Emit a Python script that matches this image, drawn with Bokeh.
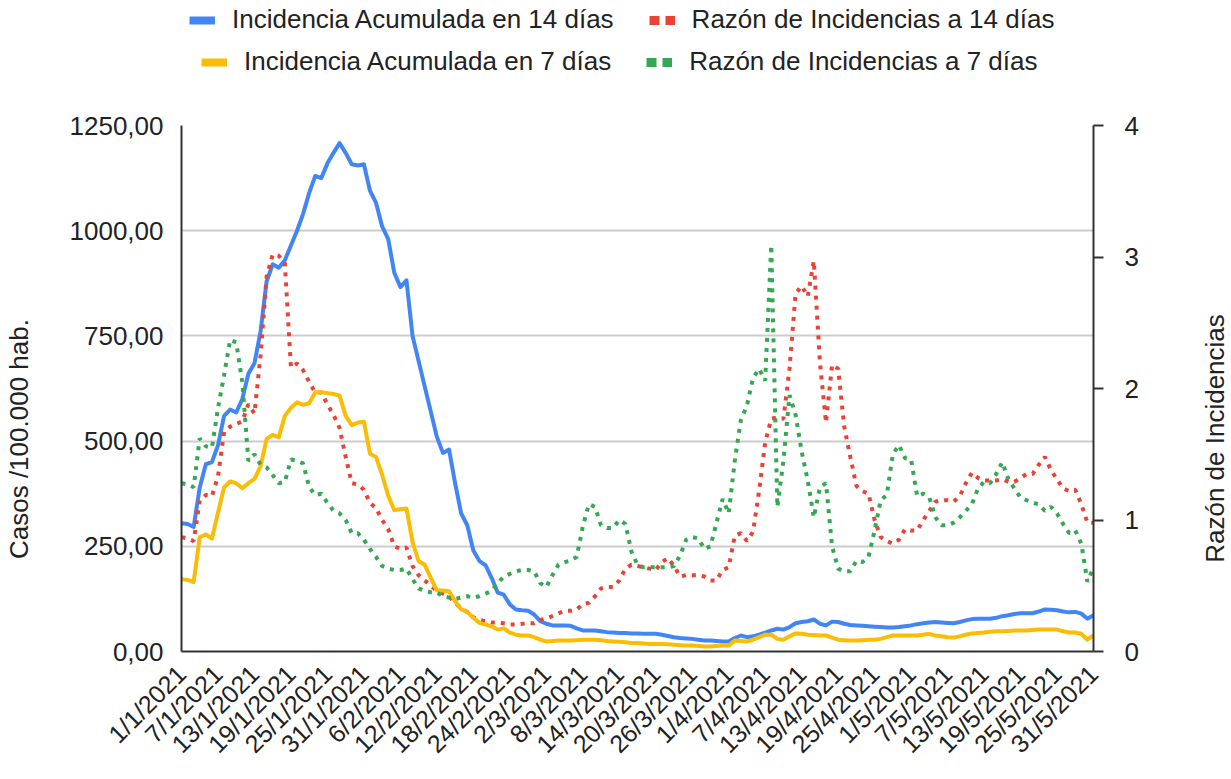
import math
from bokeh.plotting import figure
from bokeh.layouts import column, row
from bokeh.models import Range1d, LinearAxis, FixedTicker, Legend, LegendItem, Label
from bokeh.embed import file_html
from bokeh.resources import INLINE

# ---------------- data ----------------
tick_labels = ["1/1/2021", "7/1/2021", "13/1/2021", "19/1/2021", "25/1/2021", "31/1/2021",
               "6/2/2021", "12/2/2021", "18/2/2021", "24/2/2021", "2/3/2021", "8/3/2021",
               "14/3/2021", "20/3/2021", "26/3/2021", "1/4/2021", "7/4/2021", "13/4/2021",
               "19/4/2021", "25/4/2021", "1/5/2021", "7/5/2021", "13/5/2021", "19/5/2021",
               "25/5/2021", "31/5/2021"]

left_ticks = [0, 250, 500, 750, 1000, 1250]
left_labels = ["0,00", "250,00", "500,00", "750,00", "1000,00", "1250,00"]
right_ticks = [0, 1, 2, 3, 4]

# Incidencia Acumulada en 14 dias (daily, 1/1/2021 - 31/5/2021)
ia14 = [305, 303, 296, 390, 445, 450, 490, 560, 575, 568,
        600, 660, 685, 760, 880, 920, 912, 930, 965, 1000,
        1040, 1090, 1130, 1125, 1160, 1185, 1208, 1185, 1158, 1155,
        1158, 1095, 1066, 1010, 980, 900, 866, 882, 750, 690,
        630, 570, 510, 472, 480, 400, 328, 300, 240, 215,
        205, 175, 140, 135, 112, 100, 98, 97, 88, 72,
        66, 62, 62, 62, 61, 55, 50, 50, 50, 48,
        46, 45, 44, 44, 43, 43, 42, 42, 42, 40,
        37, 34, 32, 31, 30, 28, 26, 26, 25, 24,
        24, 32, 38, 34, 36, 40, 45, 50, 54, 52,
        58, 67, 70, 72, 76, 66, 62, 71, 70, 66,
        63, 62, 61, 60, 59, 58, 57, 57, 58, 60,
        62, 65, 67, 69, 70, 69, 68, 67, 70, 74,
        77, 78, 78, 78, 80, 84, 86, 89, 91, 91,
        91, 95, 100, 99, 98, 95, 93, 94, 90, 78,
        86]

# Incidencia Acumulada en 7 dias
ia7 = [172, 170, 165, 272, 278, 268, 330, 390, 404, 400,
       388, 400, 410, 440, 505, 515, 509, 560, 579, 592,
       586, 590, 616, 616, 614, 612, 608, 560, 538, 544,
       546, 470, 462, 420, 370, 336, 338, 340, 260, 215,
       206, 175, 145, 145, 143, 120, 100, 94, 80, 68,
       64, 60, 52, 55, 45, 40, 38, 38, 34, 28,
       24, 25, 26, 26, 26, 27, 28, 28, 28, 27,
       25, 24, 23, 22, 20, 20, 19, 18, 18, 18,
       17, 16, 15, 14, 14, 13, 12, 12, 13, 14,
       14, 26, 25, 24, 28, 34, 40, 40, 30, 28,
       36, 43, 42, 40, 39, 38, 38, 33, 28, 27,
       26, 26, 27, 28, 28, 30, 34, 38, 38, 38,
       38, 38, 40, 42, 38, 36, 34, 33, 36, 40,
       43, 44, 45, 47, 48, 48, 49, 50, 50, 50,
       51, 52, 52, 52, 52, 48, 45, 45, 42, 28,
       38]

# Razon de Incidencias a 14 dias
ri14 = [0.87, 0.86, 0.84, 1.15, 1.19, 1.18, 1.33, 1.67, 1.71, 1.73,
        1.75, 1.88, 1.81, 2.25, 2.85, 3.02, 3.01, 2.95, 2.16, 2.19,
        2.14, 2.05, 1.97, 1.97, 1.88, 1.80, 1.70, 1.48, 1.28, 1.27,
        1.23, 1.13, 1.09, 1.00, 0.93, 0.80, 0.78, 0.79, 0.65, 0.58,
        0.54, 0.50, 0.46, 0.44, 0.42, 0.37, 0.33, 0.30, 0.26, 0.24,
        0.23, 0.22, 0.22, 0.215, 0.205, 0.205, 0.21, 0.215, 0.215, 0.24,
        0.25, 0.27, 0.29, 0.31, 0.31, 0.32, 0.36, 0.37, 0.42, 0.48,
        0.49, 0.49, 0.54, 0.63, 0.66, 0.65, 0.64, 0.63, 0.62, 0.68,
        0.71, 0.65, 0.57, 0.58, 0.58, 0.58, 0.57, 0.54, 0.54, 0.62,
        0.64, 0.88, 0.90, 0.84, 0.91, 1.22, 1.59, 1.77, 1.78, 1.77,
        2.15, 2.72, 2.78, 2.70, 2.97, 2.20, 1.74, 2.18, 2.15, 1.71,
        1.48, 1.26, 1.22, 1.20, 1.00, 0.87, 0.84, 0.82, 0.85, 0.93,
        0.92, 0.92, 1.00, 1.07, 1.14, 1.15, 1.15, 1.14, 1.18, 1.28,
        1.36, 1.32, 1.30, 1.30, 1.30, 1.31, 1.29, 1.29, 1.32, 1.35,
        1.35, 1.42, 1.48, 1.38, 1.31, 1.24, 1.22, 1.23, 1.12, 0.98,
        0.98]

# Razon de Incidencias a 7 dias
ri7 = [1.28, 1.27, 1.25, 1.62, 1.56, 1.55, 1.85, 2.10, 2.37, 2.35,
       2.05, 1.45, 1.50, 1.42, 1.40, 1.34, 1.28, 1.29, 1.46, 1.45,
       1.43, 1.25, 1.19, 1.20, 1.13, 1.07, 1.05, 1.00, 0.90, 0.90,
       0.85, 0.78, 0.72, 0.65, 0.63, 0.62, 0.62, 0.63, 0.55, 0.48,
       0.46, 0.45, 0.45, 0.42, 0.41, 0.40, 0.41, 0.42, 0.41, 0.42,
       0.44, 0.46, 0.52, 0.57, 0.59, 0.61, 0.62, 0.62, 0.61, 0.52,
       0.49, 0.58, 0.66, 0.68, 0.69, 0.72, 0.95, 1.12, 1.10, 0.96,
       0.94, 0.94, 1.00, 0.97, 0.76, 0.66, 0.64, 0.64, 0.64, 0.64,
       0.64, 0.65, 0.73, 0.85, 0.87, 0.86, 0.78, 0.80, 0.98, 1.16,
       1.05, 1.45, 1.76, 1.87, 2.08, 2.15, 2.06, 3.09, 1.10, 1.45,
       1.95, 1.80, 1.52, 1.30, 1.02, 1.25, 1.28, 0.80, 0.63, 0.61,
       0.61, 0.69, 0.68, 0.72, 0.92, 1.15, 1.19, 1.50, 1.57, 1.47,
       1.46, 1.18, 1.20, 1.17, 1.02, 0.96, 0.96, 0.98, 1.02, 1.07,
       1.12, 1.24, 1.29, 1.28, 1.35, 1.44, 1.31, 1.24, 1.17, 1.15,
       1.13, 1.12, 1.07, 1.10, 1.05, 0.97, 0.90, 0.92, 0.82, 0.53,
       0.64]

days = list(range(len(ia14)))
tick_pos = list(range(0, len(ia14), 6))

# ---------------- styles / geometry ----------------
FONT = "Liberation Sans"
TXT = "#222222"
AX = "#333333"
C_IA14, C_RI14, C_IA7, C_RI7 = "#4285F4", "#EA4335", "#FBBC04", "#34A853"
DOT = "4 6"
PAD = "\u00a0" * 14   # shifts the centred left axis title downward, as in the original

TOTAL_W, TOTAL_H = 1231, 779
RL_W = 38                      # strip on the right holding the right-hand axis title
W = TOTAL_W - RL_W
LEG_H = 90
MAIN_H = TOTAL_H - LEG_H
FRAME_L, FRAME_R, FRAME_T, FRAME_B = 181, 1093, 125, 651

# ---------------- main chart ----------------
p = figure(width=W, height=MAIN_H, output_backend="svg", toolbar_location=None,
           x_range=Range1d(0, len(ia14) - 1), y_range=Range1d(0, 1250),
           min_border_left=FRAME_L, min_border_right=W - FRAME_R,
           min_border_top=FRAME_T - LEG_H, min_border_bottom=MAIN_H - (FRAME_B - LEG_H))
p.outline_line_color = None
p.background_fill_color = "white"
p.border_fill_color = "white"
p.extra_y_ranges = {"ratio": Range1d(0, 4)}

r_ia14 = p.line(days, ia14, line_color=C_IA14, line_width=4, line_join="round")
r_ri14 = p.line(days, ri14, line_color=C_RI14, line_width=4, line_dash=DOT,
                y_range_name="ratio")
r_ia7 = p.line(days, ia7, line_color=C_IA7, line_width=4, line_join="round")
r_ri7 = p.line(days, ri7, line_color=C_RI7, line_width=4, line_dash=DOT,
               y_range_name="ratio")

# x axis
xa = p.xaxis[0]
xa.ticker = FixedTicker(ticks=tick_pos)
xa.major_label_overrides = {t: lab for t, lab in zip(tick_pos, tick_labels)}
xa.major_label_orientation = math.pi / 4
xa.major_label_text_font = FONT
xa.major_label_text_font_size = "25px"
xa.major_label_text_color = TXT
xa.axis_line_color = AX
xa.axis_line_width = 2
xa.major_tick_line_color = None
xa.minor_tick_line_color = None
xa.major_label_standoff = 12

# left axis
ya = p.yaxis[0]
ya.ticker = FixedTicker(ticks=left_ticks)
ya.major_label_overrides = {t: lab for t, lab in zip(left_ticks, left_labels)}
ya.major_label_text_font = FONT
ya.major_label_text_font_size = "26px"
ya.major_label_text_color = TXT
ya.axis_line_color = AX
ya.axis_line_width = 2
ya.major_tick_line_color = None
ya.minor_tick_line_color = None
ya.major_label_standoff = 12
ya.axis_label = "Casos /100.000 hab." + PAD
ya.axis_label_text_font = FONT
ya.axis_label_text_font_size = "26px"
ya.axis_label_text_font_style = "normal"
ya.axis_label_text_color = TXT
ya.axis_label_standoff = 33

# right axis (ticks + tick labels; its title lives in the strip to the right)
ra = LinearAxis(y_range_name="ratio", ticker=FixedTicker(ticks=right_ticks))
ra.major_label_text_font = FONT
ra.major_label_text_font_size = "26px"
ra.major_label_text_color = TXT
ra.axis_line_color = AX
ra.axis_line_width = 2
ra.major_tick_line_color = AX
ra.major_tick_line_width = 2
ra.major_tick_out = 10
ra.major_tick_in = 0
ra.minor_tick_line_color = None
ra.major_label_standoff = 21
p.add_layout(ra, "right")

# grid
p.xgrid.visible = False
p.ygrid.ticker = FixedTicker(ticks=left_ticks)
p.ygrid.grid_line_color = "#cccccc"
p.ygrid.grid_line_width = 2

# ---------------- legend strip (separate figure above) ----------------
lf = figure(width=W, height=LEG_H, output_backend="svg", toolbar_location=None,
            x_range=Range1d(0, 1), y_range=Range1d(0, 1),
            x_axis_type=None, y_axis_type=None,
            min_border_left=0, min_border_right=0, min_border_top=0, min_border_bottom=0)
lf.outline_line_color = None
lf.grid.visible = False
lf.border_fill_color = "white"

# proxy renderers (outside the strip's range) that only supply the legend swatches
k_ia14 = lf.line([-5, -4], [-5, -4], line_color=C_IA14, line_width=8)
k_ri14 = lf.line([-5, -4], [-5, -4], line_color=C_RI14, line_width=9, line_dash="10 6")
k_ia7 = lf.line([-5, -4], [-5, -4], line_color=C_IA7, line_width=8)
k_ri7 = lf.line([-5, -4], [-5, -4], line_color=C_RI7, line_width=9, line_dash="10 6")


def make_legend(items, loc):
    lg = Legend(items=items, orientation="horizontal", location=loc)
    lg.label_text_font = FONT
    lg.label_text_font_size = "26px"
    lg.label_text_color = TXT
    lg.label_height = 30
    lg.glyph_width = 26
    lg.glyph_height = 10
    lg.label_standoff = 17
    lg.spacing = 35
    lg.padding = 0
    lg.margin = 0
    lg.border_line_color = None
    lg.background_fill_alpha = 0
    return lg


# locations: screen pixels from the strip frame's bottom-left corner (frame aligned at x=181)
leg_row1 = make_legend([LegendItem(label="Incidencia Acumulada en 14 días", renderers=[k_ia14]),
                        LegendItem(label="Razón de Incidencias a 14 días", renderers=[k_ri14])],
                       (8, 55))
leg_row2 = make_legend([LegendItem(label="Incidencia Acumulada en 7 días", renderers=[k_ia7]),
                        LegendItem(label="Razón de Incidencias a 7 días", renderers=[k_ri7])],
                       (20, 13))
lf.add_layout(leg_row1)
lf.add_layout(leg_row2)

# ---------------- right-hand axis title strip ----------------
rf = figure(width=RL_W, height=TOTAL_H, output_backend="svg", toolbar_location=None,
            x_range=Range1d(0, RL_W), y_range=Range1d(0, TOTAL_H),
            x_axis_type=None, y_axis_type=None,
            min_border_left=0, min_border_right=0, min_border_top=0, min_border_bottom=0)
rf.outline_line_color = None
rf.grid.visible = False
rf.border_fill_color = "white"
rf.background_fill_color = "white"
rf.add_layout(Label(x=21, y=TOTAL_H - 438, text="Razón de Incidencias", angle=math.pi / 2,
                    text_align="center", text_baseline="middle", text_font=FONT,
                    text_font_size="26px", text_color=TXT))

layout = row(column(lf, p, spacing=0), rf, spacing=0)
open("out.html", "w").write(file_html(layout, INLINE))
